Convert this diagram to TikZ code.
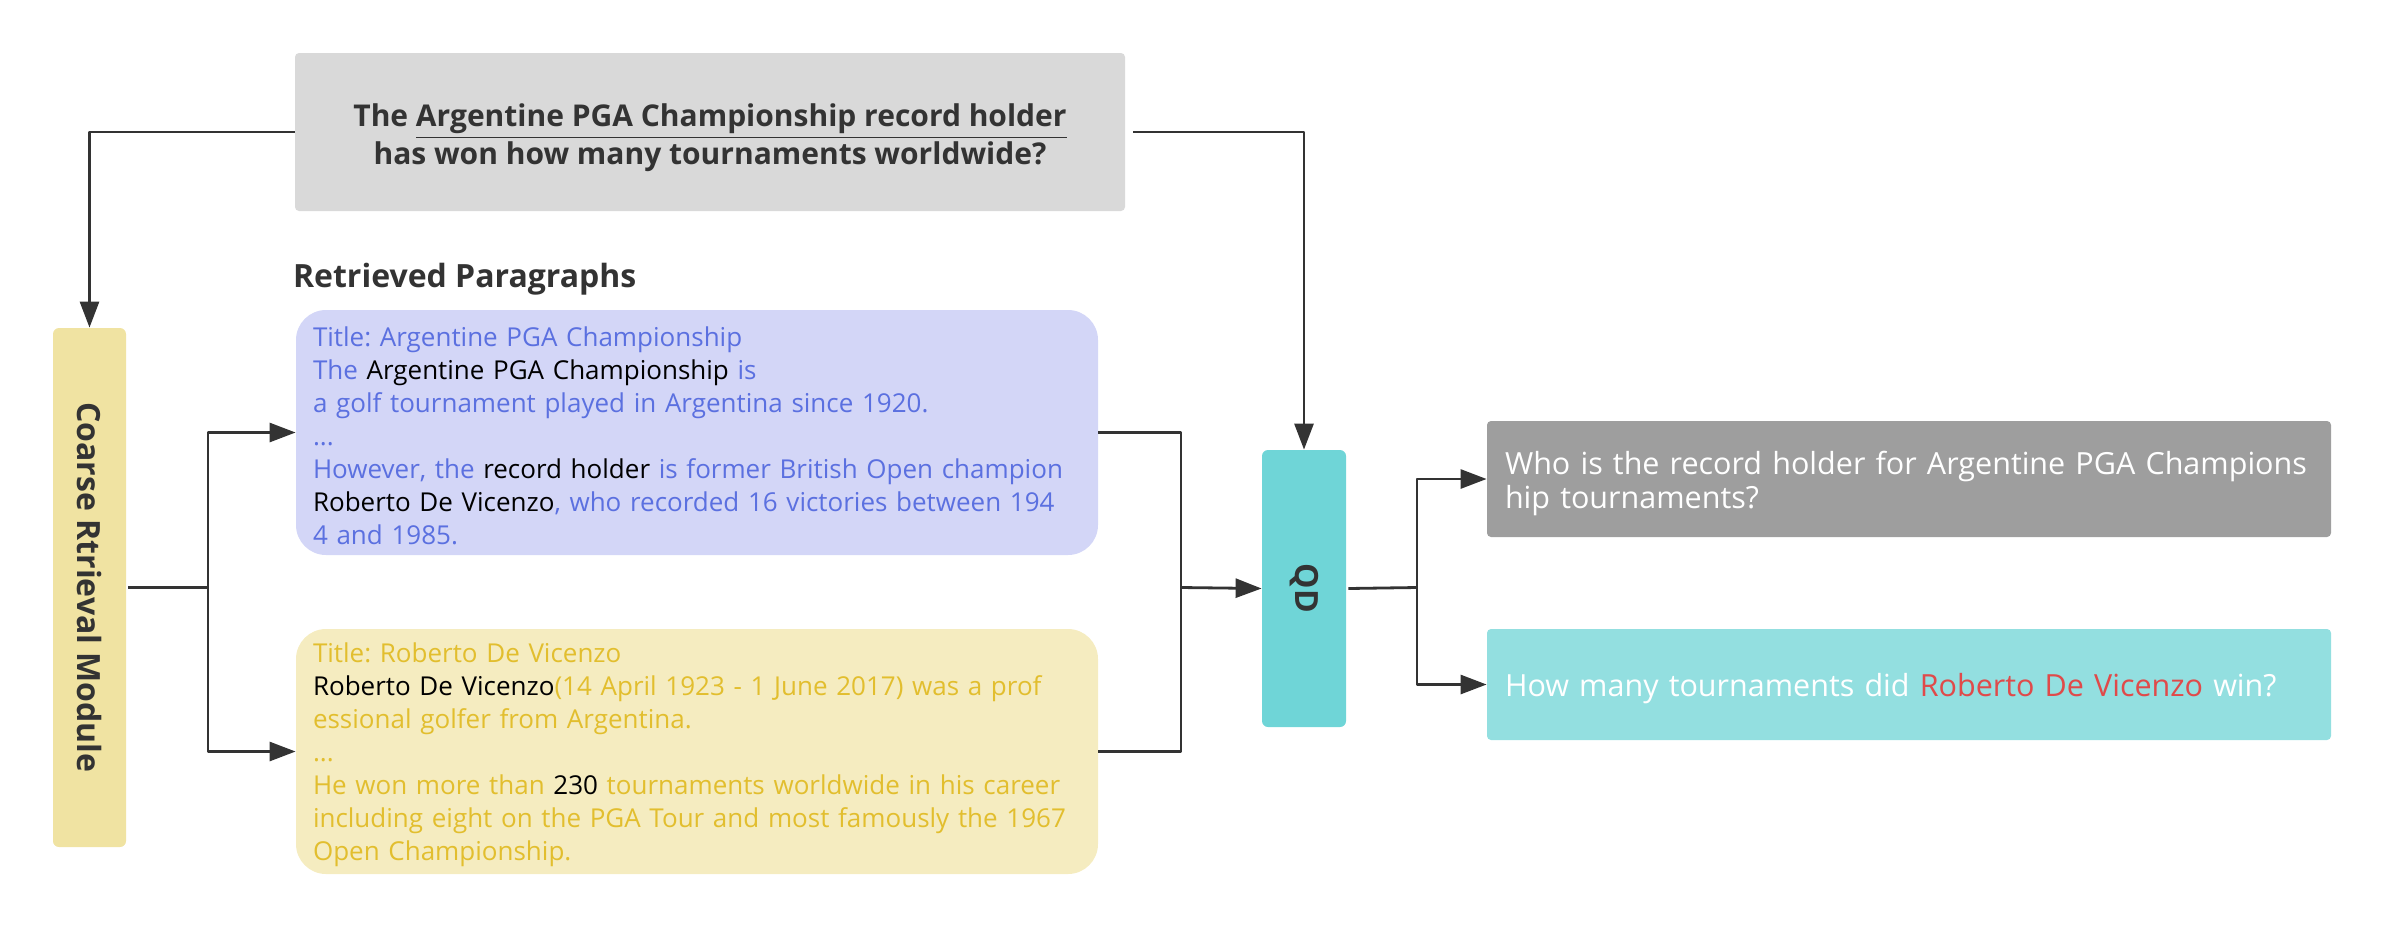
\documentclass[tikz,border=0pt]{standalone}
\usepackage{fontspec}
\usepackage{graphicx}
\setmainfont{Open Sans}
\frenchspacing
\usetikzlibrary{arrows.meta}

\definecolor{linec}{HTML}{333333}
\definecolor{qgray}{HTML}{D9D9D9}
\definecolor{pblue}{HTML}{D3D6F7}
\definecolor{tblue}{HTML}{5B70E0}
\definecolor{pyel}{HTML}{F5ECC0}
\definecolor{tyel}{HTML}{E2BE2E}
\definecolor{cyel}{HTML}{F0E3A2}
\definecolor{qdcyan}{HTML}{6FD5D7}
\definecolor{ogray}{HTML}{9E9E9E}
\definecolor{ocyan}{HTML}{93DFE0}
\definecolor{ored}{HTML}{E04A4A}

\newcommand{\keyw}[1]{\textcolor{black}{#1}}
\newcommand{\lowstrut}[1]{\rule{0pt}{#1}}

\tikzset{
  link/.style={draw=linec, line width=1.4pt, -{Triangle[length=13pt,width=9.5pt]}},
  wire/.style={draw=linec, line width=1.4pt},
  parabox/.style={rounded corners=15pt, minimum width=401pt, minimum height=122.5pt,
    text width=384pt, inner xsep=8.5pt, align=left,
    font=\fontsize{13}{16.5}\selectfont},
  outbox/.style={rounded corners=2pt, minimum width=422pt, text width=404pt,
    inner xsep=9pt, align=left, text=white,
    font=\fontsize{15.25}{17}\selectfont},
  modbox/.style={rounded corners=3pt, text=linec,
    font=\fontsize{16}{18}\selectfont\bfseries}
}

\begin{document}
\begin{tikzpicture}[x=0.5pt, y=-0.5pt, line join=round]
    \useasboundingbox (0,0) rectangle (2384,928);

    % question at the top
    \node[fill=qgray, rounded corners=2pt, minimum width=415pt, minimum height=79pt,
      align=center, text=linec, font=\fontsize{15}{19}\selectfont\bfseries]
      (ques) at (710,132)
      {\lowstrut{17.5pt}The \underline{Argentine PGA Championship record holder}\\
       has won how many tournaments worldwide?};

    % modules
    \node[modbox, fill=cyel, minimum width=36.5pt, minimum height=259.5pt]
      (crm) at (89.5,587.5) {\rotatebox{-90}{Coarse Rtrieval Module}};
    \node[modbox, fill=qdcyan, minimum width=42pt, minimum height=138.5pt]
      (qd) at (1304,588.5) {\rotatebox{-90}{QD}};

    % retrieved paragraphs
    \node[anchor=west, text=linec, font=\fontsize{16}{18}\selectfont\bfseries]
      (rtitle) at (286,279) {Retrieved Paragraphs};
    \node[parabox, fill=pblue, text=tblue] (pa) at (697,432.5)
      {\lowstrut{13pt}Title: Argentine PGA Championship\\
       The \keyw{Argentine PGA Championship} is\\
       a golf tournament played in Argentina since 1920.\\
       ...\\
       However, the \keyw{record holder} is former British Open champion\\
       \keyw{Roberto De Vicenzo}, who recorded 16 victories between 194\\
       4 and 1985.};
    \node[parabox, fill=pyel, text=tyel] (pb) at (697,751.5)
      {\lowstrut{13pt}Title: Roberto De Vicenzo\\
       \keyw{Roberto De Vicenzo}(14 April 1923 - 1 June 2017) was a prof\\
       essional golfer from Argentina.\\
       ...\\
       He won more than \keyw{230} tournaments worldwide in his career\\
       including eight on the PGA Tour and most famously the 1967\\
       Open Championship.};

    % decomposed sub-questions
    \node[outbox, fill=ogray, minimum height=58pt] (sq1) at (1909,479)
      {\lowstrut{16pt}Who is the record holder for Argentine PGA Champions\\
       hip tournaments?};
    \node[outbox, fill=ocyan, minimum height=55.5pt] (sq2) at (1909,684.5)
      {\lowstrut{16pt}How many tournaments did \textcolor{ored}{Roberto De Vicenzo} win?};

    % branch points
    \coordinate (sp1) at (208,587.5);
    \coordinate (mg) at (1181,587.5);
    \coordinate (sp2) at (1417,587.5);

    % connectors
    \draw[link] (ques.west) -| (crm.north);
    \draw[link] ([xshift=4pt]ques.east) -| (qd.north);
    \draw[wire] ([xshift=1pt]crm.east) -- (sp1);
    \draw[link] (sp1) |- (pa.west);
    \draw[link] (sp1) |- (pb.west);
    \draw[wire] (pa.east) -| (mg);
    \draw[wire] (pb.east) -| (mg);
    \draw[link] (mg) -- (qd.west);
    \draw[wire] ([xshift=1pt]qd.east) -- (sp2);
    \draw[link] (sp2) |- (sq1.west);
    \draw[link] (sp2) |- (sq2.west);
\end{tikzpicture}
\end{document}
